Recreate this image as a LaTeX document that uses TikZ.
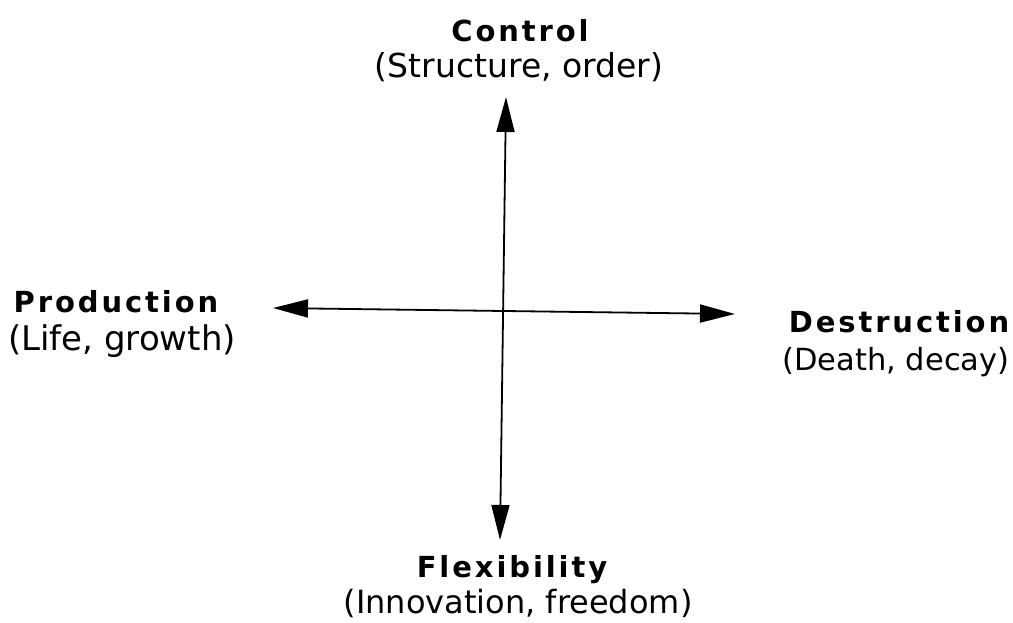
\documentclass[tikz,border=0pt]{standalone}
\usepackage{fontspec}
\setmainfont{DejaVu Sans}
\newfontfamily\headfont[LetterSpace=10]{DejaVu Sans}
\usetikzlibrary{arrows.meta}
\begin{document}
\begin{tikzpicture}[x=1pt,y=-1pt,
  head/.style={font=\headfont\bfseries\fontsize{29}{33}\selectfont, inner sep=0pt, anchor=base},
  sub/.style={font=\fontsize{#1}{38}\selectfont, inner sep=0pt, anchor=base},
  sub/.default=33,
  axis/.style={line width=1.8pt, {Triangle[length=35pt,width=18pt]}-{Triangle[length=35pt,width=18pt]}}]
\useasboundingbox (0,0) rectangle (1013,623);
\node[head] (ctl) at (520,42) {Control};
\node[sub] (ctls) at (519,78) {(Structure, order)};
\node[head] (prod) at (116,312) {Production};
\node[sub=34] (prods) at (122,350) {(Life, growth)};
\node[head] (des) at (899,332) {Destruction};
\node[sub=30.5] (dess) at (896,370) {(Death, decay)};
\node[sub=32] (flexs) at (518,613) {(Innovation, freedom)};
\node[head] (flex) at (512,577) {Flexibility};
\coordinate (top) at (506,97);
\coordinate (bot) at (500,540);
\coordinate (lft) at (273,308);
\coordinate (rgt) at (735,314);
\draw[axis] (bot) -- (top);
\draw[axis] (lft) -- (rgt);
\end{tikzpicture}
\end{document}
